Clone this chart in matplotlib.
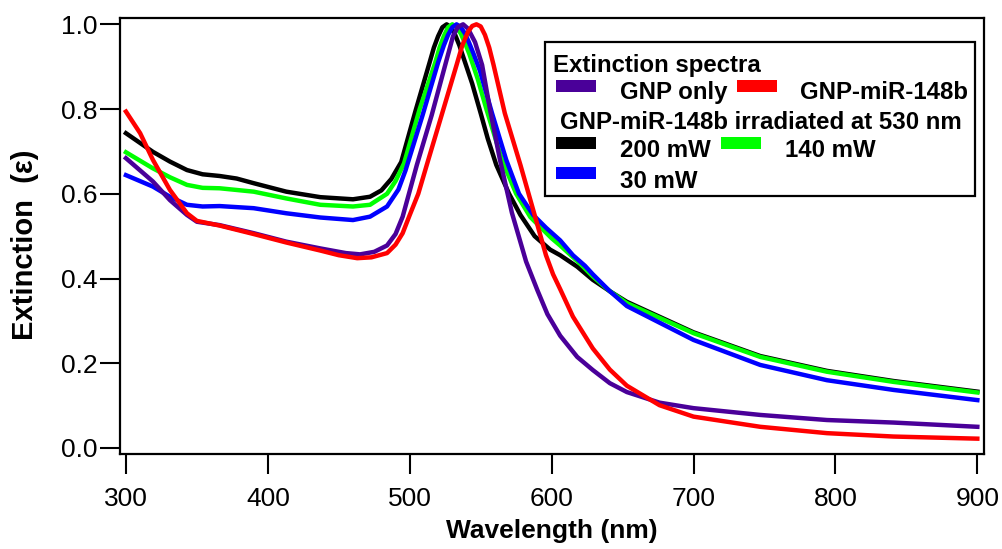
import matplotlib
matplotlib.use("Agg")
import matplotlib.pyplot as plt
from matplotlib.patches import Rectangle

plt.rcParams['font.family'] = ['Liberation Sans', 'DejaVu Sans']

# wavelength (nm) / extinction
gnp_nm = [300, 319, 331, 343, 350, 366, 390, 413, 437, 455, 465, 475, 484, 490, 495, 505, 515.5, 525,
          530.5, 534, 537.6, 541, 546, 551, 556.5, 563.6, 572, 582, 590, 597, 606, 618, 629, 641, 653,
          676, 700, 747, 794, 841, 900]
gnp_ext = [0.684, 0.629, 0.585, 0.550, 0.534, 0.526, 0.507, 0.487, 0.471, 0.460, 0.457, 0.463, 0.478,
           0.505, 0.546, 0.668, 0.786, 0.904, 0.972, 0.994, 1.0, 0.99, 0.958, 0.904, 0.80, 0.68, 0.555,
           0.44, 0.372, 0.316, 0.265, 0.215, 0.184, 0.153, 0.132, 0.107, 0.094, 0.078, 0.066, 0.06, 0.05]

mir_nm = [300, 310, 319, 331, 343, 350, 366, 390, 413, 437, 450, 463, 473, 484, 490, 495, 500, 506, 512,
          522.5, 533, 537, 541, 544, 547, 550, 553, 556, 559, 567, 578, 588, 596, 601, 606, 615, 629, 641,
          653, 676, 700, 747, 794, 841, 900]
mir_ext = [0.794, 0.743, 0.680, 0.609, 0.554, 0.536, 0.525, 0.505, 0.485, 0.466, 0.455, 0.448, 0.450,
           0.46, 0.48, 0.507, 0.55, 0.60, 0.668, 0.786, 0.904, 0.95, 0.982, 0.996, 1.0, 0.995, 0.975,
           0.945, 0.905, 0.79, 0.668, 0.55, 0.455, 0.41, 0.375, 0.31, 0.235, 0.185, 0.147, 0.101, 0.074,
           0.05, 0.035, 0.027, 0.022]

mw200_nm = [300, 319, 331, 343, 354, 366, 378, 390, 413, 437, 460, 472, 480, 487, 494, 504, 514, 517,
            520, 523, 526, 529, 532, 535, 538, 544, 550, 555, 561, 570, 578, 588, 599, 606, 618, 629, 641,
            653, 700, 747, 794, 841, 900]
mw200_ext = [0.743, 0.699, 0.676, 0.656, 0.646, 0.642, 0.636, 0.625, 0.605, 0.592, 0.587, 0.593, 0.608,
             0.635, 0.675, 0.795, 0.91, 0.945, 0.972, 0.993, 1.0, 0.993, 0.975, 0.95, 0.92, 0.86, 0.79,
             0.73, 0.668, 0.60, 0.55, 0.50, 0.468, 0.455, 0.428, 0.397, 0.37, 0.345, 0.273, 0.217, 0.182,
             0.158, 0.133]

mw140_nm = [300, 319, 331, 343, 354, 366, 390, 413, 437, 460, 472, 484, 490, 496, 507, 518, 521, 524,
            527, 530, 533, 536, 539, 542, 548, 554, 565, 575, 585, 600, 606, 621, 629, 641, 653, 700, 747,
            794, 841, 900]
mw140_ext = [0.698, 0.66, 0.639, 0.621, 0.614, 0.613, 0.605, 0.589, 0.574, 0.570, 0.574, 0.60, 0.63,
             0.672, 0.80, 0.91, 0.945, 0.972, 0.993, 1.0, 0.993, 0.978, 0.955, 0.93, 0.87, 0.80, 0.68,
             0.60, 0.545, 0.495, 0.478, 0.432, 0.405, 0.37, 0.342, 0.271, 0.215, 0.18, 0.156, 0.131]

mw30_nm = [300, 319, 331, 343, 354, 366, 390, 413, 437, 460, 472, 484, 492, 497, 509, 520, 524, 527,
           530, 533, 536, 539, 542, 545, 549.5, 558, 568, 577, 587, 596, 606, 615, 623.5, 629, 641, 653,
           700, 747, 794, 841, 900]
mw30_ext = [0.644, 0.617, 0.593, 0.574, 0.570, 0.571, 0.566, 0.554, 0.544, 0.538, 0.546, 0.57, 0.61,
            0.655, 0.785, 0.91, 0.95, 0.975, 0.993, 1.0, 0.993, 0.978, 0.955, 0.93, 0.89, 0.79, 0.68,
            0.60, 0.55, 0.52, 0.49, 0.455, 0.43, 0.41, 0.37, 0.335, 0.255, 0.196, 0.16, 0.137, 0.113]

PURPLE = '#4a0099'
LW = 3.2

fig = plt.figure(figsize=(10.03, 5.49), dpi=100)
ax = fig.add_axes([120 / 1003, 95 / 549, 864 / 1003, 436 / 549])

ax.plot(mw200_nm, mw200_ext, color='black', lw=LW, solid_joinstyle='round')
ax.plot(mw140_nm, mw140_ext, color='#00ff00', lw=LW, solid_joinstyle='round')
ax.plot(mw30_nm, mw30_ext, color='#0000ff', lw=LW, solid_joinstyle='round')
ax.plot(gnp_nm, gnp_ext, color=PURPLE, lw=LW, solid_joinstyle='round')
ax.plot(mir_nm, mir_ext, color='#ff0000', lw=LW, solid_joinstyle='round')

ax.set_xlim(295.8, 904.7)
ax.set_ylim(-0.0142, 1.0149)
ax.set_xticks([300, 400, 500, 600, 700, 800, 900])
ax.set_yticks([0.0, 0.2, 0.4, 0.6, 0.8, 1.0])
ax.set_yticklabels(['0.0', '0.2', '0.4', '0.6', '0.8', '1.0'])
ax.tick_params(direction='out', length=14.4, width=1.5, labelsize=19)
ax.tick_params(axis='x', pad=9)
ax.tick_params(axis='y', pad=2)
for s in ax.spines.values():
    s.set_linewidth(1.6)

fig.text(552 / 1003, 1 - 531 / 549, 'Wavelength (nm)', fontsize=19, fontweight='bold',
         ha='center', va='center')
fig.text(25 / 1003, 1 - 245 / 549, 'Extinction  (\u03b5)', fontsize=21, fontweight='bold',
         rotation=90, ha='center', va='center')


# hand-built legend box, pixel positions converted to axes fraction
def ax_xy(x, y):
    return (x - 120) / 864, (454 - y) / 436


x0, y0 = ax_xy(545, 196)
x1, y1 = ax_xy(975, 42)
ax.add_patch(Rectangle((x0, y0), x1 - x0, y1 - y0, transform=ax.transAxes,
                       facecolor='white', edgecolor='black', lw=1.6, zorder=5))

swatches = [(556, 80, PURPLE), (737, 80, '#ff0000'), (556, 137, 'black'),
            (721, 137, '#00ff00'), (556, 167, '#0000ff')]
for sx, sy, c in swatches:
    px, py = ax_xy(sx, sy + 12)
    ax.add_patch(Rectangle((px, py), 40 / 864, 12 / 436, transform=ax.transAxes,
                           facecolor=c, edgecolor='none', zorder=6))

labels = [(553, 71.7, 'Extinction spectra'), (620, 99, 'GNP only'), (800, 99, 'GNP-miR-148b'),
          (560, 129, 'GNP-miR-148b irradiated at 530 nm'), (620, 157, '200 mW'),
          (785, 157, '140 mW'), (620, 187.5, '30 mW')]
for tx, ty, t in labels:
    px, py = ax_xy(tx, ty)
    ax.text(px, py, t, transform=ax.transAxes, fontsize=17.3, fontweight='bold',
            ha='left', va='baseline', zorder=7)

fig.savefig('out.png', dpi=100)
